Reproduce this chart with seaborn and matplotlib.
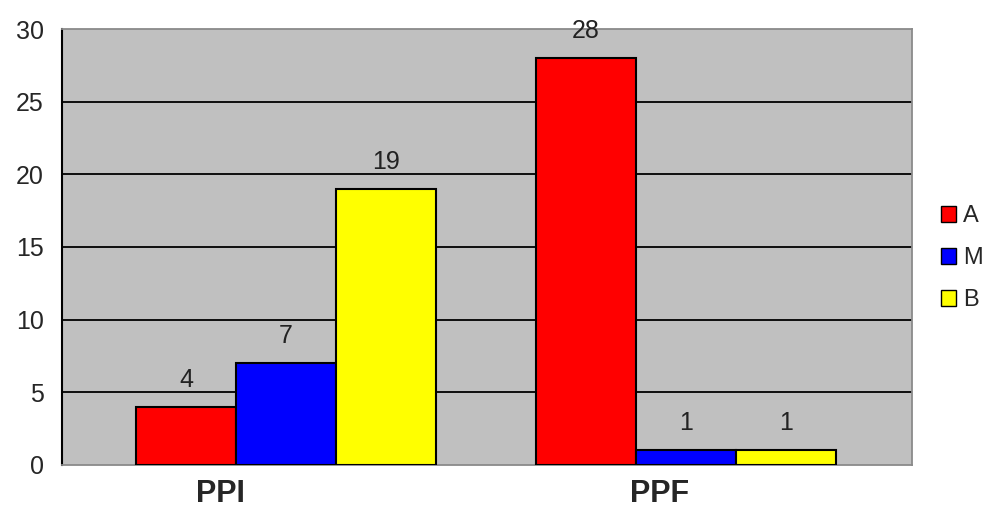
import pandas as pd
import numpy as np
import matplotlib.pyplot as plt
import seaborn as sns
from matplotlib.patches import Patch

# Data
categories = ["PPI", "PPF"]
series = ["A", "M", "B"]
values_A = [4, 28]
values_M = [7, 1]
values_B = [19, 1]
palette = {"A": "#FF0000", "M": "#0000FF", "B": "#FFFF00"}

df = pd.DataFrame({
    "cat": categories * 3,
    "serie": ["A"] * 2 + ["M"] * 2 + ["B"] * 2,
    "val": values_A + values_M + values_B,
})

sns.set_style("white")
plt.rcParams["font.family"] = ["Liberation Sans", "DejaVu Sans"]

fig = plt.figure(figsize=(9.89, 5.07), dpi=100)
ax = fig.add_axes([62 / 989, 42 / 507, 850 / 989, 436 / 507])
ax.set_facecolor("#C0C0C0")

sns.barplot(data=df, x="cat", y="val", hue="serie", order=categories, hue_order=series,
            palette=palette, saturation=1, width=0.75, gap=0, edgecolor="black",
            linewidth=1.5, legend=False, ax=ax, zorder=3)

for c in ax.containers:
    ax.bar_label(c, padding=11, fontsize=18, color="#222222")

ax.set_ylim(0, 30)
ax.set_yticks(range(0, 31, 5))
ax.set_xlim(-0.56, 1.565)
for y in range(5, 30, 5):
    ax.axhline(y, color="black", lw=1.3, zorder=1)

ax.set_xticks([-0.165, 0.935])
ax.set_xticklabels(categories, fontsize=22, fontweight="bold")
ax.tick_params(axis="x", length=0, pad=10)
ax.tick_params(axis="y", length=6, width=1.3, color="black", labelsize=18, pad=7, direction="out")
ax.set_xlabel("")
ax.set_ylabel("")

for s in ["top", "right", "bottom"]:
    ax.spines[s].set_color("#8a8a8a")
    ax.spines[s].set_linewidth(1.3)
ax.spines["left"].set_color("black")
ax.spines["left"].set_linewidth(1.5)

handles = [Patch(facecolor=palette[s], edgecolor="black", lw=1) for s in series]
fig.legend(handles, series, loc="center left", bbox_to_anchor=(941 / 989, 1 - 258 / 507),
           frameon=False, fontsize=17, handlelength=0.65, handleheight=0.65,
           handletextpad=0.3, labelspacing=0.85, borderpad=0, borderaxespad=0)

fig.savefig("out.png", dpi=100)
